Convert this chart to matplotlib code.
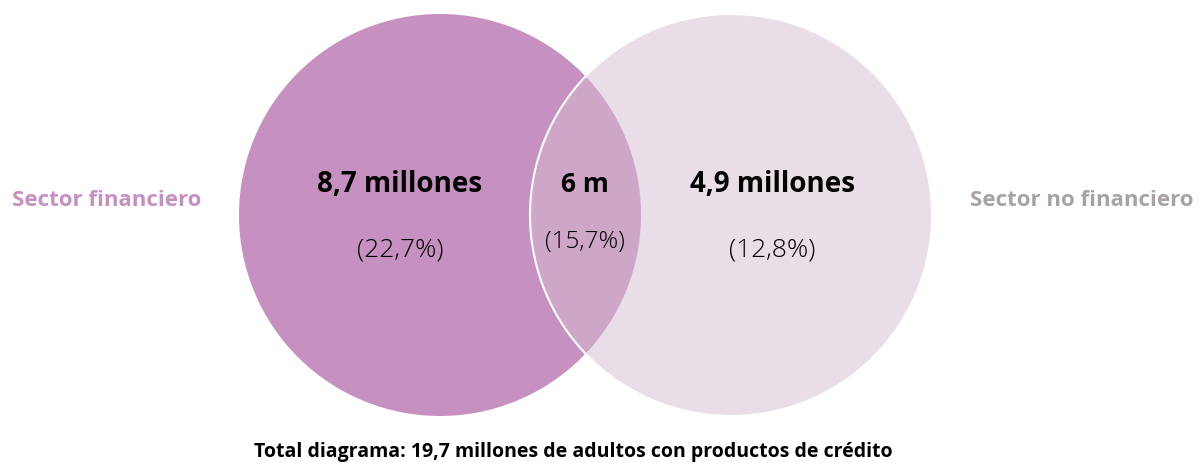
import matplotlib
matplotlib.use("Agg")
import matplotlib.pyplot as plt
from matplotlib.patches import Circle

# ---- data ----
set_names = ["Sector financiero", "Sector no financiero"]
only_values = [8.7, 4.9]          # millones
shared_value = 6                  # millones
only_pct = [22.7, 12.8]
shared_pct = 15.7
total_text = "Total diagrama: 19,7 millones de adultos con productos de crédito"

def fmt(v, d=1):
    return f"{v:.{d}f}".replace(".", ",")

# ---- style ----
c_left = "#C690C1"
c_right = "#E9DDE8"
c_lens = "#CDA6C8"
c_lbl_left = "#C690C1"
c_lbl_right = "#A9A1A8"
fam = ["Open Sans", "DejaVu Sans"]

fig = plt.figure(figsize=(12, 4.63), dpi=100)
ax = fig.add_axes([0, 0, 1, 1])
ax.set_xlim(0, 1200)
ax.set_ylim(463, 0)
ax.set_aspect("equal")
ax.axis("off")

r = 201
cl = (440, 215)
cr = (731, 215)

left = Circle(cl, r, facecolor=c_left, edgecolor="none", zorder=1)
right = Circle(cr, r, facecolor=c_right, edgecolor="none", zorder=2)
ax.add_patch(left)
ax.add_patch(right)
lens = Circle(cl, r, facecolor=c_lens, edgecolor="none", zorder=3)
ax.add_patch(lens)
clipc = Circle(cr, r, transform=ax.transData)
lens.set_clip_path(clipc)
edge = Circle(cr, r, facecolor="none", edgecolor="white", lw=1.5, zorder=4)
ax.add_patch(edge)

# region labels
ax.text(400, 185, f"{fmt(only_values[0])} millones", ha="center", va="center",
        fontsize=20, fontweight="bold", family=fam, color="black", zorder=5)
ax.text(400, 250, f"({fmt(only_pct[0])}%)", ha="center", va="center",
        fontsize=19, fontweight="light", family=fam, color="black", zorder=5)
ax.text(585, 185, f"{shared_value} m", ha="center", va="center",
        fontsize=19, fontweight="bold", family=fam, color="black", zorder=5)
ax.text(585, 242, f"({fmt(shared_pct)}%)", ha="center", va="center",
        fontsize=17.5, fontweight="light", family=fam, color="black", zorder=5)
ax.text(772, 185, f"{fmt(only_values[1])} millones", ha="center", va="center",
        fontsize=20, fontweight="bold", family=fam, color="black", zorder=5)
ax.text(772, 250, f"({fmt(only_pct[1])}%)", ha="center", va="center",
        fontsize=19, fontweight="light", family=fam, color="black", zorder=5)

# set names
ax.text(107, 201, set_names[0], ha="center", va="center", fontsize=16,
        fontweight="bold", family=fam, color=c_lbl_left)
ax.text(1082, 201, set_names[1], ha="center", va="center", fontsize=16,
        fontweight="bold", family=fam, color=c_lbl_right)

ax.text(573, 452, total_text, ha="center", va="center", fontsize=14,
        fontweight="bold", family=fam, color="black")

fig.savefig("out.png", dpi=100)
